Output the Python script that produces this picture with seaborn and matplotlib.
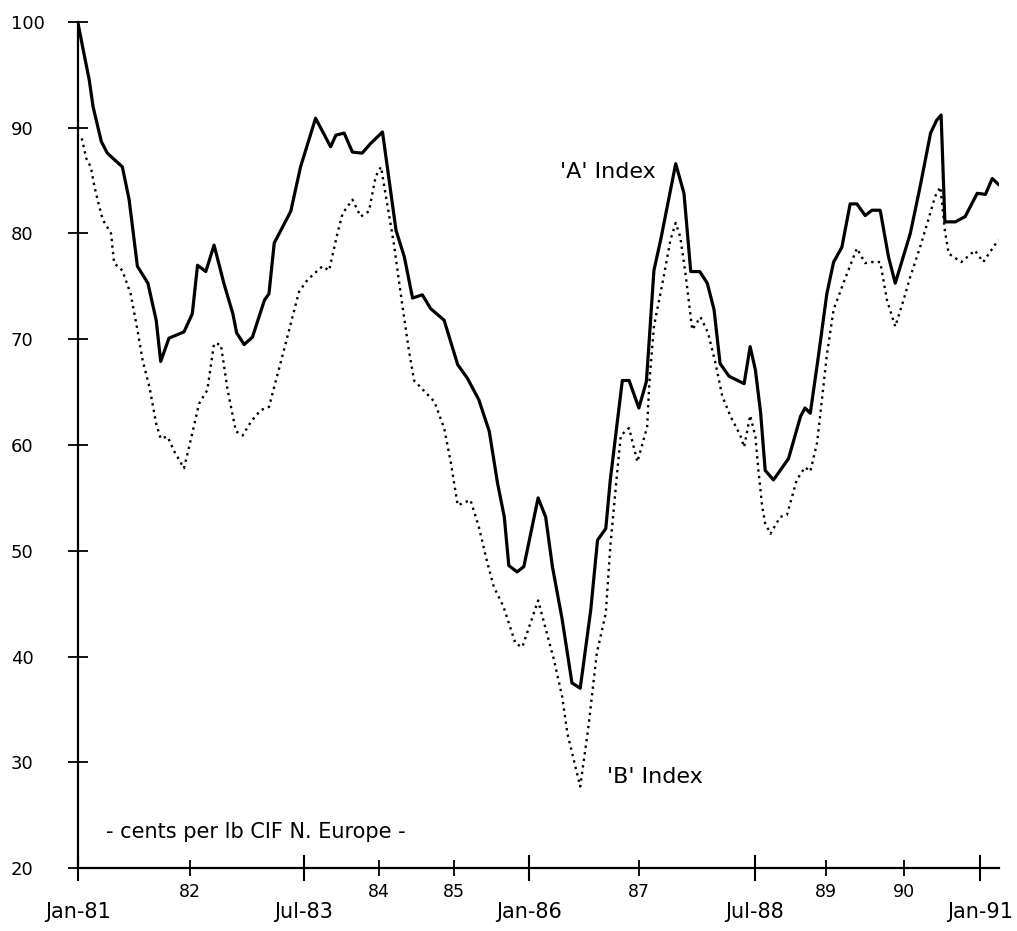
import matplotlib
matplotlib.use("Agg")
import matplotlib.pyplot as plt
import seaborn as sns
import pandas as pd

# ---- data (months since Jan-81, index values) ----
a_month = [0, 0.6, 1.5, 2.0, 3.1, 3.9, 5.9, 6.8, 7.9, 9.3, 10.4, 11.0, 12.1, 14.1, 15.2,
           15.9, 17.0, 18.1, 19.4, 20.6, 21.1, 22.1, 23.2, 24.8, 25.4, 26.1, 28.3, 29.6,
           31.6, 33.6, 34.3, 35.4, 36.5, 37.8, 38.9, 40.5, 42.3, 43.4, 44.5, 45.8, 46.9,
           48.7, 50.5, 51.8, 53.3, 54.7, 55.8, 56.7, 57.3, 58.4, 59.3, 61.2, 62.2, 63.1,
           64.4, 65.7, 66.8, 68.2, 69.1, 70.2, 70.8, 71.7, 72.4, 73.3, 74.6, 75.6, 76.1,
           76.6, 77.5, 79.5, 80.6, 81.5, 82.7, 83.7, 84.6, 85.4, 86.6, 88.6, 89.4, 90.1,
           90.8, 91.4, 92.5, 93.4, 94.5, 96.1, 96.7, 97.4, 98.5, 99.6, 100.5, 101.6, 102.7,
           103.6, 104.7, 105.6, 106.7, 107.8, 108.7, 110.7, 112.0, 113.4, 114.2, 114.8,
           115.3, 116.7, 118.0, 119.6, 120.7, 121.6, 122.5]
a_value = [99.9, 97.7, 94.5, 92.0, 88.7, 87.6, 86.3, 83.2, 76.9, 75.3, 71.8, 67.9, 70.1, 70.7, 72.4,
           77.0, 76.4, 78.9, 75.3, 72.4, 70.6, 69.5, 70.2, 73.7, 74.3, 79.1, 82.1, 86.3,
           90.9, 88.2, 89.3, 89.5, 87.7, 87.6, 88.5, 89.6, 80.3, 77.8, 73.9, 74.2, 72.9,
           71.8, 67.6, 66.3, 64.3, 61.3, 56.4, 53.2, 48.6, 48.0, 48.5, 55.0, 53.2, 48.5,
           43.5, 37.5, 37.0, 44.4, 51.0, 52.1, 56.7, 62.0, 66.1, 66.1, 63.5, 66.0, 71.2,
           76.5, 79.4, 86.6, 83.8, 76.4, 76.4, 75.3, 72.8, 67.7, 66.5, 65.8, 69.3, 67.1,
           63.0, 57.6, 56.7, 57.6, 58.7, 62.7, 63.5, 63.0, 68.5, 74.3, 77.3, 78.7, 82.8,
           82.8, 81.7, 82.2, 82.2, 77.8, 75.3, 80.0, 84.4, 89.5, 90.7, 91.2,
           81.1, 81.1, 81.6, 83.8, 83.7, 85.2, 84.6]

b_month = [0.5, 1.1, 1.7, 2.2, 2.6, 3.3, 4.4, 4.8, 5.9, 7.0, 7.9, 8.6, 9.5, 10.4, 11.0, 11.9,
           12.8, 14.1, 15.0, 16.1, 17.2, 18.1, 19.0, 19.9, 21.0, 21.9, 23.0, 24.3, 25.4,
           26.1, 27.4, 29.4, 30.5, 32.5, 33.4, 34.5, 35.2, 36.5, 37.6, 38.7, 39.6, 40.3,
           42.0, 43.1, 44.0, 44.7, 47.4, 48.7, 49.6, 50.5, 52.2, 53.3, 54.4, 55.3, 56.6,
           58.2, 59.1, 61.2, 63.3, 64.4, 65.1, 66.8, 67.9, 69.0, 70.2, 70.8, 71.7, 72.2,
           73.3, 74.4, 75.7, 76.0, 76.6, 77.9, 78.8, 79.5, 80.1, 80.8, 81.7, 82.8, 83.8,
           84.8, 85.7, 86.8, 88.1, 88.6, 89.4, 90.1, 90.5, 91.0, 91.4, 92.1, 93.4, 94.3,
           95.6, 96.7, 97.4, 98.3, 99.0, 99.6, 100.5, 101.8, 103.6, 104.7, 105.6, 106.7,
           107.6, 108.7, 109.8, 110.7, 112.0, 113.1, 114.0, 114.7, 115.3, 115.8, 117.5,
           119.3, 120.4, 122.4]
b_value = [89.0, 87.1, 86.3, 84.4, 83.2, 81.3, 80.0, 77.2, 76.5, 74.3, 70.9, 68.0, 65.5, 62.0, 60.6, 60.8,
           59.4, 57.8, 60.5, 63.9, 65.2, 69.6, 69.5, 65.2, 61.3, 60.9, 62.2, 63.3, 63.6,
           65.5, 69.0, 74.5, 75.6, 76.9, 76.5, 80.0, 81.9, 83.2, 81.6, 82.1, 85.4, 86.3,
           79.1, 73.4, 69.0, 66.1, 64.1, 61.6, 58.3, 54.3, 54.8, 52.3, 49.0, 46.6, 44.7,
           41.2, 40.9, 45.3, 39.7, 36.2, 32.7, 27.7, 33.4, 40.3, 44.1, 50.4, 57.3, 60.9,
           61.6, 58.4, 61.7, 66.0, 71.2, 75.9, 79.4, 81.0, 79.7, 76.2, 70.9, 72.1, 70.6,
           67.7, 64.6, 62.7, 60.9, 59.8, 62.8, 60.8, 57.6, 54.2, 52.6, 51.6, 53.2, 53.4,
           56.7, 57.9, 57.5, 60.2, 64.6, 68.5, 72.8, 75.3, 78.6, 77.2, 77.3, 77.3,
           73.7, 71.2, 73.7, 75.9, 78.7, 81.3, 83.5, 84.4, 80.3, 78.1, 77.3,
           78.4, 77.3, 79.4]

major_pos = [0, 30, 60, 90, 120]
major_labels = ["Jan-81", "Jul-83", "Jan-86", "Jul-88", "Jan-91"]
minor_pos = [14.9, 40.0, 50.0, 74.6, 99.5, 109.8]
minor_labels = ["82", "84", "85", "87", "89", "90"]
y_ticks = [20, 30, 40, 50, 60, 70, 80, 90, 100]

sns.set_style("white")
plt.rcParams["font.family"] = ["DejaVu Sans"]
plt.rcParams["text.color"] = "black"

W, H = 1017, 931
fig = plt.figure(figsize=(W / 100, H / 100), dpi=100)
ax = fig.add_axes([78 / W, 63 / H, (999 - 78) / W, 846 / H])

df_a = pd.DataFrame({"month": a_month, "value": a_value})
df_b = pd.DataFrame({"month": b_month, "value": b_value})
sns.lineplot(data=df_a, x="month", y="value", ax=ax, color="black", linewidth=2.3,
             sort=False, estimator=None)
sns.lineplot(data=df_b, x="month", y="value", ax=ax, color="black", linewidth=1.7,
             linestyle=(0, (1, 1.8)), sort=False, estimator=None)

ax.set_xlim(0, 122.5)
ax.set_ylim(20, 100)
ax.set_xlabel("")
ax.set_ylabel("")
for s in ["top", "right"]:
    ax.spines[s].set_visible(False)
for s in ["left", "bottom"]:
    ax.spines[s].set_color("black")
    ax.spines[s].set_linewidth(1.6)

ax.set_yticks(y_ticks)
ax.set_yticklabels([str(v) for v in y_ticks])
ax.tick_params(axis="y", which="major", left=True, direction="inout", length=15,
               width=1.3, pad=41, labelsize=13, colors="black")
for lab in ax.get_yticklabels():
    lab.set_horizontalalignment("left")

ax.set_xticks(major_pos)
ax.set_xticklabels(major_labels)
ax.set_xticks(minor_pos, minor=True)
ax.set_xticklabels(minor_labels, minor=True)
ax.tick_params(axis="x", which="major", bottom=True, direction="inout", length=19,
               width=1.5, pad=15, labelsize=15, colors="black")
ax.tick_params(axis="x", which="minor", bottom=True, direction="inout", length=11,
               width=1.3, pad=5, labelsize=12.5, colors="black")

ax.text(76.8, 85.8, "'A' Index", ha="right", va="center", fontsize=16, color="black")
ax.text(70.4, 28.6, "'B' Index", ha="left", va="center", fontsize=16, color="black")
ax.text(3.7, 23.4, "- cents per lb CIF N. Europe -", ha="left", va="center",
        fontsize=15, color="black")

fig.savefig("out.png", dpi=100)
